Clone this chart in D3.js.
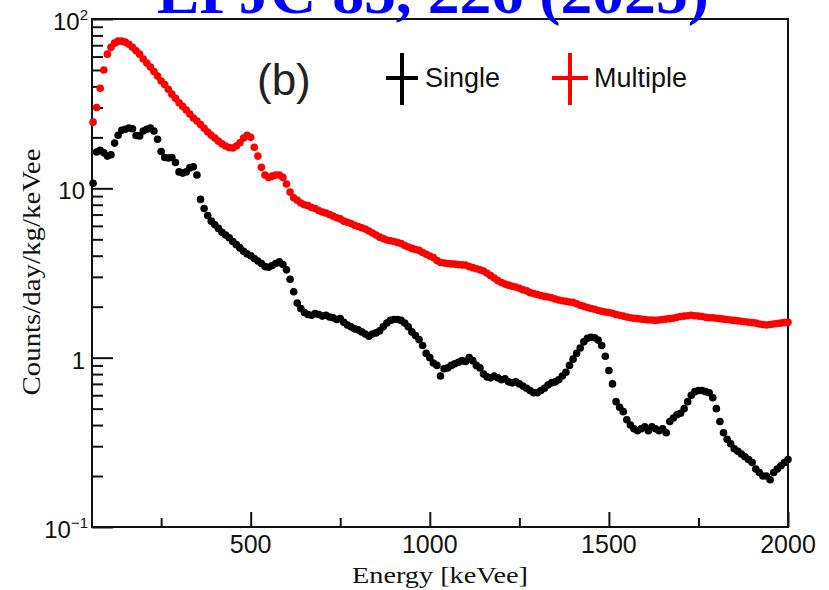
<!DOCTYPE html>
<html>
<head>
<meta charset="utf-8">
<script src="https://cdn.jsdelivr.net/npm/d3@7"></script>
<style>
  body { margin: 0; background: #fff; }
  svg { display: block; }
</style>
</head>
<body>
<div id="chart"></div>
<script>
// bins of 10 keVee, first bin centred at 60
var binStart = 60, binWidth = 10;

// Multiple-hit events (red)
var multiple = [
  24.6, 30, 39, 50, 62, 68, 72, 74, 74, 73,
  71, 68, 65, 62, 58, 55, 52, 49, 46, 43,
  41, 38.5, 36, 34, 32, 30.5, 29, 27.5, 26, 25,
  23.8, 22.6, 21.5, 20.6, 19.8, 19, 18.3, 17.8, 17.4, 17.3,
  17.8, 18.6, 19.8, 20.6, 20.0, 17.5, 15.5, 13.3, 12.0, 11.6,
  11.8, 12.0, 12.0, 11.6, 10.6, 9.5, 8.8, 8.5, 8.2, 8.0,
  7.9, 7.7, 7.6, 7.4, 7.25, 7.15, 7.0, 6.85, 6.7, 6.6,
  6.4, 6.3, 6.2, 6.05, 5.95, 5.85, 5.75, 5.6, 5.45, 5.3,
  5.15, 5.05, 4.95, 4.9, 4.85, 4.78, 4.72, 4.6, 4.5, 4.42,
  4.35, 4.3, 4.18, 4.08, 3.98, 3.9, 3.75, 3.65, 3.62, 3.6,
  3.58, 3.57, 3.55, 3.53, 3.52, 3.45, 3.4, 3.35, 3.3, 3.25,
  3.15, 3.05, 2.95, 2.85, 2.78, 2.72, 2.68, 2.64, 2.61, 2.57,
  2.52, 2.48, 2.42, 2.39, 2.36, 2.33, 2.30, 2.28, 2.26, 2.22,
  2.19, 2.17, 2.15, 2.13, 2.12, 2.08, 2.04, 2.01, 1.98, 1.95,
  1.93, 1.90, 1.88, 1.86, 1.85, 1.83, 1.80, 1.78, 1.76, 1.74,
  1.72, 1.71, 1.70, 1.69, 1.68, 1.67, 1.67, 1.66, 1.67, 1.68,
  1.69, 1.70, 1.71, 1.73, 1.75, 1.76, 1.77, 1.78, 1.77, 1.76,
  1.75, 1.73, 1.72, 1.72, 1.71, 1.70, 1.69, 1.68, 1.67, 1.66,
  1.65, 1.64, 1.63, 1.62, 1.61, 1.60, 1.58, 1.57, 1.56, 1.57,
  1.58, 1.59, 1.60, 1.61, 1.62
];

// Single-hit events (black)
var single = [
  10.7, 16.4, 16.8, 16.2, 15.5, 15.8, 18.5, 20.6, 22.0, 22.3,
  22.7, 22.5, 20.5, 20.4, 21.8, 22.3, 22.7, 21.8, 19.5, 16.5,
  15.2, 15.1, 15.2, 14.2, 12.5, 12.3, 12.5, 13.2, 13.4, 12.0,
  8.6, 7.6, 6.9, 6.4, 6.1, 5.8, 5.5, 5.3, 5.1, 4.85,
  4.65, 4.45, 4.25, 4.1, 4.0, 3.85, 3.72, 3.6, 3.45, 3.42,
  3.5, 3.6, 3.68, 3.55, 3.3, 2.9, 2.45, 2.1, 1.95, 1.85,
  1.8, 1.78, 1.82, 1.8, 1.76, 1.78, 1.74, 1.72, 1.68, 1.7,
  1.62, 1.56, 1.52, 1.48, 1.46, 1.42, 1.38, 1.34, 1.38, 1.40,
  1.44, 1.52, 1.6, 1.66, 1.68, 1.68, 1.66, 1.6, 1.52, 1.42,
  1.35, 1.28, 1.18, 1.06, 1.0, 0.93, 0.9, 0.78, 0.86, 0.87,
  0.9, 0.92, 0.94, 0.96, 0.95, 1.0, 0.96, 0.9, 0.87, 0.8,
  0.77, 0.76, 0.78, 0.76, 0.74, 0.75, 0.72, 0.71, 0.72, 0.7,
  0.68, 0.66, 0.64, 0.62, 0.62, 0.64, 0.66, 0.69, 0.71, 0.72,
  0.74, 0.78, 0.82, 0.9, 0.98, 1.06, 1.14, 1.24, 1.3, 1.32,
  1.31, 1.27, 1.18, 1.02, 0.84, 0.7, 0.55, 0.51, 0.48, 0.43,
  0.4, 0.38, 0.37, 0.38, 0.39, 0.37, 0.39, 0.38, 0.37, 0.38,
  0.36, 0.42, 0.44, 0.46, 0.47, 0.5, 0.55, 0.6, 0.63, 0.64,
  0.64, 0.63, 0.62, 0.58, 0.5, 0.42, 0.36, 0.33, 0.31, 0.29,
  0.28, 0.27, 0.26, 0.25, 0.24, 0.22, 0.21, 0.2, 0.2, 0.19,
  0.21, 0.22, 0.23, 0.24, 0.25
];

var xMajor = [500, 1000, 1500, 2000];
var xMinor = [250, 750, 1250, 1750];
var yMajor = [0.1, 1, 10, 100];
var yLabels = [{b: "10", e: "\u22121"}, {b: "1", e: ""}, {b: "10", e: ""}, {b: "10", e: "2"}];
var seriesNames = ["Single", "Multiple"];
var seriesColors = ["#000000", "#ff0000"];

var width = 829, height = 590;
var margin = {left: 92, right: 788, top: 19, bottom: 527};

var svg = d3.select("#chart").append("svg")
  .attr("width", width)
  .attr("height", height);

svg.append("rect").attr("width", width).attr("height", height).attr("fill", "#fff");

var x = d3.scaleLinear().domain([57, 2000]).range([margin.left, margin.right]);
var y = d3.scaleLog().domain([0.1, 100]).range([margin.bottom, margin.top]);

// minor y ticks 2..9 per decade
var yMinor = [];
[0.1, 1, 10].forEach(function(d) {
  for (var k = 2; k <= 9; k++) yMinor.push(d * k);
});

function binE(i) { return binStart + i * binWidth; }

// frame
svg.append("rect")
  .attr("x", margin.left).attr("y", margin.top)
  .attr("width", margin.right - margin.left).attr("height", margin.bottom - margin.top)
  .attr("fill", "none")
  .attr("stroke", "#111")
  .attr("stroke-width", 2);

// x axis ticks (inward)
var gx = svg.append("g").attr("transform", "translate(0," + margin.bottom + ")");
gx.call(d3.axisBottom(x).tickValues(xMajor).tickSize(-15).tickSizeOuter(0).tickFormat(""));
gx.append("g").call(d3.axisBottom(x).tickValues(xMinor).tickSize(-9).tickSizeOuter(0).tickFormat(""));
gx.selectAll("path").remove();
gx.selectAll("line").attr("stroke", "#111").attr("stroke-width", 2);

gx.selectAll(".xlab")
  .data(xMajor)
  .enter().append("text")
  .attr("x", function(d) { return x(d); })
  .attr("y", 26)
  .attr("text-anchor", "middle")
  .style("font", "25px 'Liberation Sans', Arial, sans-serif")
  .attr("fill", "#111")
  .text(function(d) { return d; });

// y axis ticks (inward)
var gy = svg.append("g").attr("transform", "translate(" + margin.left + ",0)");
gy.call(d3.axisLeft(y).tickValues(yMajor).tickSize(-21).tickSizeOuter(0).tickFormat(""));
gy.append("g").call(d3.axisLeft(y).tickValues(yMinor).tickSize(-11).tickSizeOuter(0).tickFormat(""));
gy.selectAll("path").remove();
gy.selectAll("line").attr("stroke", "#111").attr("stroke-width", 2);

var ylab = svg.selectAll(".ylab")
  .data(yMajor)
  .enter().append("text")
  .attr("x", function(d, i) { return yLabels[i].e ? 88 : 85; })
  .attr("y", function(d) { return y(d) + 11; })
  .attr("text-anchor", "end")
  .style("font", "24px 'Liberation Sans', Arial, sans-serif")
  .attr("fill", "#111");
ylab.append("tspan").text(function(d, i) { return yLabels[i].b; });
ylab.append("tspan")
  .attr("dy", -10)
  .style("font-size", "15px")
  .text(function(d, i) { return yLabels[i].e; });

// data points
svg.append("g").selectAll("circle")
  .data(multiple)
  .enter().append("circle")
  .attr("cx", function(d, i) { return x(binE(i)); })
  .attr("cy", function(d) { return y(d); })
  .attr("r", 3.8)
  .attr("fill", seriesColors[1]);

svg.append("g").selectAll("circle")
  .data(single)
  .enter().append("circle")
  .attr("cx", function(d, i) { return x(binE(i)); })
  .attr("cy", function(d) { return y(d); })
  .attr("r", 3.8)
  .attr("fill", seriesColors[0]);

// panel tag and legend
svg.append("text")
  .attr("x", 257).attr("y", 95)
  .style("font", "44px 'Liberation Sans', Arial, sans-serif")
  .attr("fill", "#222")
  .text("(b)");

var legend = [
  {cx: 402, hw: 16, tx: 425},
  {cx: 570, hw: 18, tx: 594}
];
legend.forEach(function(l, i) {
  var g = svg.append("g");
  g.append("line").attr("x1", l.cx - l.hw).attr("x2", l.cx + l.hw)
    .attr("y1", 78).attr("y2", 78)
    .attr("stroke", seriesColors[i]).attr("stroke-width", 4);
  g.append("line").attr("x1", l.cx).attr("x2", l.cx)
    .attr("y1", 53).attr("y2", 105)
    .attr("stroke", seriesColors[i]).attr("stroke-width", 4);
  g.append("text")
    .attr("x", l.tx).attr("y", 87)
    .style("font", "27px 'Liberation Sans', Arial, sans-serif")
    .attr("fill", "#111")
    .text(seriesNames[i]);
});

// axis titles
svg.append("text")
  .attr("x", 440).attr("y", 583)
  .attr("text-anchor", "middle")
  .attr("textLength", 176)
  .attr("lengthAdjust", "spacingAndGlyphs")
  .style("font", "24px 'Liberation Serif', 'Times New Roman', serif")
  .attr("fill", "#111")
  .text("Energy [keVee]");

svg.append("text")
  .attr("transform", "translate(40,272) rotate(-90)")
  .attr("text-anchor", "middle")
  .attr("textLength", 247)
  .attr("lengthAdjust", "spacingAndGlyphs")
  .style("font", "25px 'Liberation Serif', 'Times New Roman', serif")
  .attr("fill", "#111")
  .text("Counts/day/kg/keVee");

// journal reference, cut by the top edge
svg.append("text")
  .attr("x", 433).attr("y", 13)
  .attr("text-anchor", "middle")
  .attr("textLength", 552)
  .attr("lengthAdjust", "spacingAndGlyphs")
  .style("font", "bold 62px 'Liberation Serif', 'Times New Roman', serif")
  .attr("fill", "#0000ff")
  .text("EPJC 85, 226 (2025)");
</script>
</body>
</html>
